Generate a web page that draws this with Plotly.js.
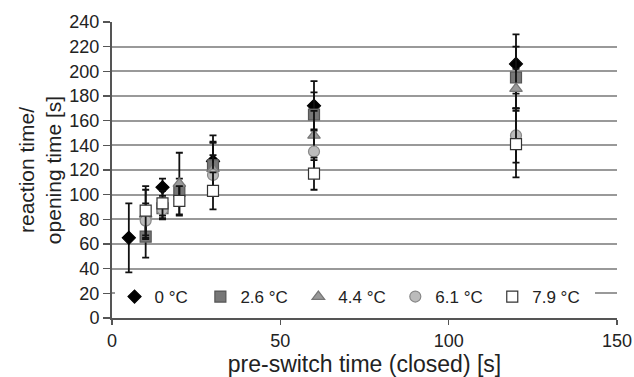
<!DOCTYPE html>
<html><head><meta charset="utf-8">
<script src="https://cdn.plot.ly/plotly-3.0.1.min.js"></script>
<style>html,body{margin:0;padding:0;background:#fff}#c{width:634px;height:377px}</style>
</head><body><div id="c"></div>
<script>
const seriesNames = ["0 °C", "2.6 °C", "4.4 °C", "6.1 °C", "7.9 °C"];
const x0 = [5, 15, 30, 60, 120];
const y0 = [65, 106, 127, 172, 206];
const e0 = [28, 7, 21, 20, 24];
const x1 = [10, 15, 20, 30, 60, 120];
const y1 = [66, 89, 103, 124, 165, 195];
const e1 = [17, 8, 10, 18, 18, 25];
const x2 = [10, 20, 30, 60, 120];
const y2 = [84, 109, 121, 148, 186];
const e2 = [20, 25, 22, 20, 16];
const x3 = [10, 15, 30, 60, 120];
const y3 = [79, 88, 116, 135, 148];
const e3 = [14, 8, 16, 18, 22];
const x4 = [10, 15, 20, 30, 60, 120];
const y4 = [87, 93, 95, 103, 117, 141];
const e4 = [20, 10, 12, 15, 13, 27];
const yTicks = [0,20,40,60,80,100,120,140,160,180,200,220,240];
const xTicks = [0,50,100,150];

const styles = [
  {symbol:'diamond', size:10, color:'#000', line:'#000'},
  {symbol:'square', size:11, color:'#777', line:'#555'},
  {symbol:'triangle-up', size:11, color:'#999', line:'#777'},
  {symbol:'circle', size:11, color:'#bbb', line:'#888'},
  {symbol:'square', size:11, color:'#fff', line:'#333'}
];
// legend placement (paper fraction of plot width)
const legendX = [0.005, 0.175, 0.369, 0.561, 0.753];
const legendIds = ['legend','legend2','legend3','legend4','legend5'];
const xs=[x0,x1,x2,x3,x4], ys=[y0,y1,y2,y3,y4], es=[e0,e1,e2,e3,e4];
const traces = seriesNames.map((n,i)=>({
  type:'scatter', mode:'markers', name:n, x:xs[i], y:ys[i], legend:legendIds[i],
  error_y:{type:'data', array:es[i], visible:true, color:'#111', thickness:1.8, width:3.5},
  marker:{symbol:styles[i].symbol, size:styles[i].size, color:styles[i].color, line:{color:styles[i].line, width:1.2}}
}));
const layout = {
  width:634, height:377,
  margin:{l:112, r:17, t:22, b:59},
  paper_bgcolor:'#fff', plot_bgcolor:'#fff',
  font:{family:'Liberation Sans, Arial, sans-serif', size:18, color:'#222'},
  showlegend:true,
  xaxis:{range:[0,150], tickvals:xTicks, ticktext:xTicks.map(String), showgrid:false, zeroline:false,
    showline:true, linecolor:'#555', linewidth:2, ticks:'outside', ticklen:5, tickcolor:'#555', tickwidth:1.5,
    tickfont:{size:18},
    title:{text:'pre-switch time (closed) [s]', font:{size:23, color:'#222'}, standoff:3}},
  yaxis:{range:[0,240], tickvals:yTicks, ticktext:yTicks.map(String), showgrid:true, gridcolor:'#999', gridwidth:2,
    zeroline:false, showline:true, linecolor:'#555', linewidth:2, ticks:'outside', ticklen:7, tickcolor:'#555', tickwidth:1.5,
    tickfont:{size:18},
    title:{text:'reaction time/<br>opening time [s]', font:{size:21, color:'#222'}, standoff:2}}
};
legendIds.forEach((id,i)=>{
  layout[id] = {orientation:'h', x:legendX[i], xanchor:'left', y:0.071, yanchor:'middle', bgcolor:'#fff', borderwidth:0,
    font:{size:17, color:'#222'}, entrywidth:58, entrywidthmode:'pixels', itemclick:false};
});
Plotly.newPlot('c', traces, layout, {displayModeBar:false, staticPlot:true});
</script></body></html>
